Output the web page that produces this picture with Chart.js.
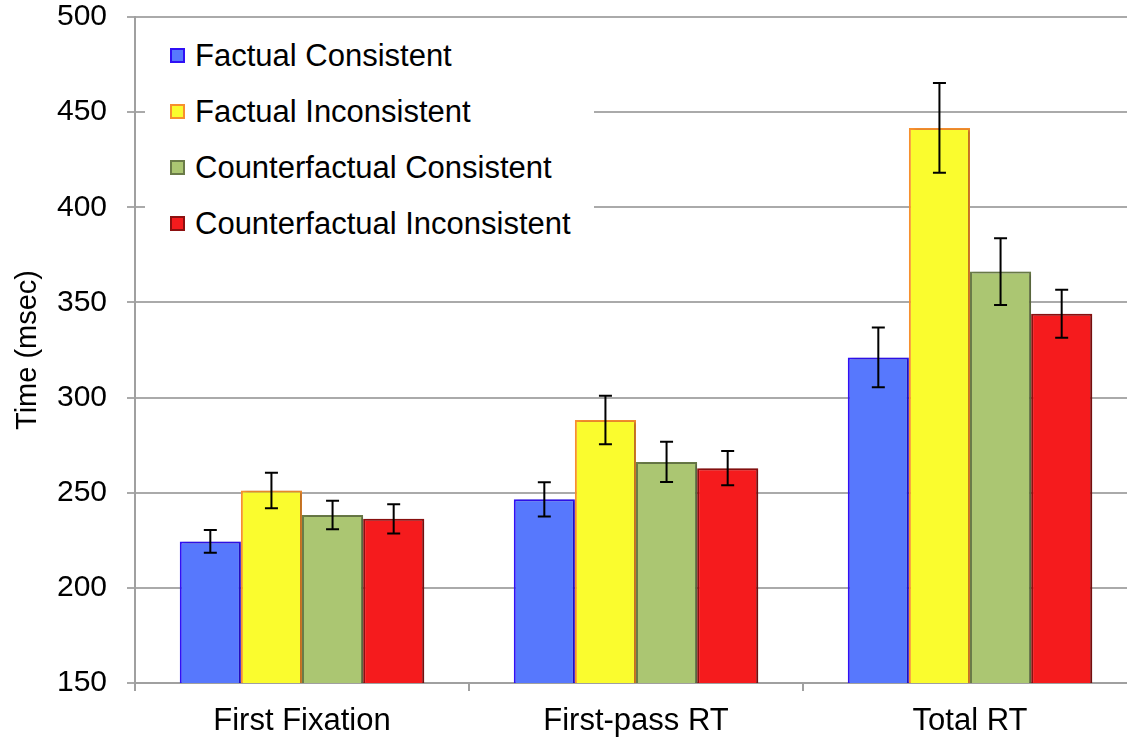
<!DOCTYPE html>
<html>
<head>
<meta charset="utf-8">
<script src="https://cdn.jsdelivr.net/npm/chart.js@4.4.1/dist/chart.umd.min.js"></script>
<style>
  body { margin: 0; overflow: hidden; background: #fff; }
  #wrap { position: relative; width: 1140px; height: 744px; }
  #legend {
    position: absolute; left: 145px; top: 28px; width: 449px; height: 225px;
    background: #fff; font-family: 'Liberation Sans', Arial, sans-serif; font-size: 31px; color: #000;
  }
  .item { position: absolute; left: 25px; height: 36px; line-height: 36px; white-space: nowrap; }
  .box { position: absolute; left: 0; top: 10px; width: 11px; height: 11px; border: 2px solid; }
  .txt { position: absolute; left: 25px; top: 0; }
</style>
</head>
<body>
<div id="wrap">
  <canvas id="timeChart" width="1140" height="744"></canvas>
  <div id="legend"></div>
</div>
<script>
const categories = ['First Fixation', 'First-pass RT', 'Total RT'];
const seriesNames = ['Factual Consistent', 'Factual Inconsistent', 'Counterfactual Consistent', 'Counterfactual Inconsistent'];

const factualConsistent = [224.4, 246.5, 321.1];
const factualInconsistent = [251.2, 288.2, 441.7];
const counterConsistent = [238.3, 266.2, 366.2];
const counterInconsistent = [236.3, 262.9, 344.1];

// standard error (+/-) for each bar
const errFactualConsistent = [6, 9, 15.7];
const errFactualInconsistent = [9.3, 12.7, 23.6];
const errCounterConsistent = [7.5, 10.6, 17.5];
const errCounterInconsistent = [7.7, 9, 12.6];

const yTicks = [150, 200, 250, 300, 350, 400, 450, 500];

const fills = ['#5778fd', '#fafc2e', '#abc672', '#f51b1d'];
const borders = ['#2f10f5', '#f7902e', '#6a7b48', '#8c1010'];

const seriesValues = [factualConsistent, factualInconsistent, counterConsistent, counterInconsistent];
const seriesErrors = [errFactualConsistent, errFactualInconsistent, errCounterConsistent, errCounterInconsistent];

const FONT = "'Liberation Sans', Arial, sans-serif";

const errorBars = {
  id: 'errorBars',
  afterDatasetsDraw(chart) {
    const ctx = chart.ctx;
    const y = chart.scales.y;
    ctx.save();
    ctx.strokeStyle = '#000';
    ctx.lineWidth = 2;
    chart.data.datasets.forEach((ds, i) => {
      const meta = chart.getDatasetMeta(i);
      meta.data.forEach((bar, j) => {
        const v = ds.data[j], e = seriesErrors[i][j];
        const top = y.getPixelForValue(v + e);
        const bot = y.getPixelForValue(v - e);
        ctx.beginPath();
        ctx.moveTo(bar.x, top); ctx.lineTo(bar.x, bot);
        ctx.moveTo(bar.x - 6.5, top); ctx.lineTo(bar.x + 6.5, top);
        ctx.moveTo(bar.x - 6.5, bot); ctx.lineTo(bar.x + 6.5, bot);
        ctx.stroke();
      });
    });
    ctx.restore();
  }
};

const barShadow = {
  id: 'barShadow',
  beforeDatasetDraw(chart) {
    const ctx = chart.ctx;
    ctx.save();
    ctx.shadowColor = 'rgba(0,0,0,0.25)';
    ctx.shadowOffsetX = 3;
    ctx.shadowBlur = 3;
  },
  afterDatasetDraw(chart) {
    chart.ctx.restore();
  }
};

function createChart() {
  const el = document.getElementById('timeChart');

  new Chart(el, {
    type: 'bar',
    data: {
      labels: categories,
      datasets: seriesNames.map((name, i) => ({
        label: name,
        data: seriesValues[i],
        backgroundColor: fills[i],
        borderColor: borders[i],
        borderWidth: 2,
        barPercentage: 1,
        categoryPercentage: 0.732
      }))
    },
    options: {
      responsive: false,
      animation: false,
      layout: {
        padding: { top: 17, right: 3, left: 0, bottom: 0 }
      },
      scales: {
        y: {
          min: 150,
          max: 500,
          afterBuildTicks(scale) {
            scale.ticks = yTicks.map(v => ({ value: v }));
          },
          afterFit(scale) {
            scale.width = 135;
            scale.paddingTop = 0;
            scale.paddingBottom = 0;
          },
          grid: {
            color: '#aaaaaa',
            lineWidth: 2,
            tickLength: 8
          },
          border: { color: '#a0a0a0', width: 2 },
          ticks: {
            color: '#000',
            padding: 20,
            font: { family: FONT, size: 30 }
          },
          title: {
            display: true,
            text: 'Time (msec)',
            color: '#000',
            padding: { top: 11, bottom: 0 },
            font: { family: FONT, size: 29 }
          }
        },
        x: {
          afterFit(scale) { scale.height = 61; },
          grid: {
            drawOnChartArea: false,
            color: '#a0a0a0',
            lineWidth: 2,
            tickLength: 8,
            offset: true
          },
          border: { color: '#a0a0a0', width: 2 },
          ticks: {
            color: '#000',
            padding: 12,
            font: { family: FONT, size: 31 }
          }
        }
      },
      plugins: {
        legend: { display: false },
        tooltip: { enabled: false }
      }
    },
    plugins: [barShadow, errorBars]
  });

  // legend sits inside the plot on a white box
  const legend = document.getElementById('legend');
  seriesNames.forEach((name, i) => {
    const item = document.createElement('div');
    item.className = 'item';
    item.style.top = (10 + i * 56) + 'px';
    item.innerHTML = '<span class="box" style="background:' + fills[i] + ';border-color:' + borders[i] + '"></span>' +
      '<span class="txt">' + name + '</span>';
    legend.appendChild(item);
  });
}

createChart();
</script>
</body>
</html>
